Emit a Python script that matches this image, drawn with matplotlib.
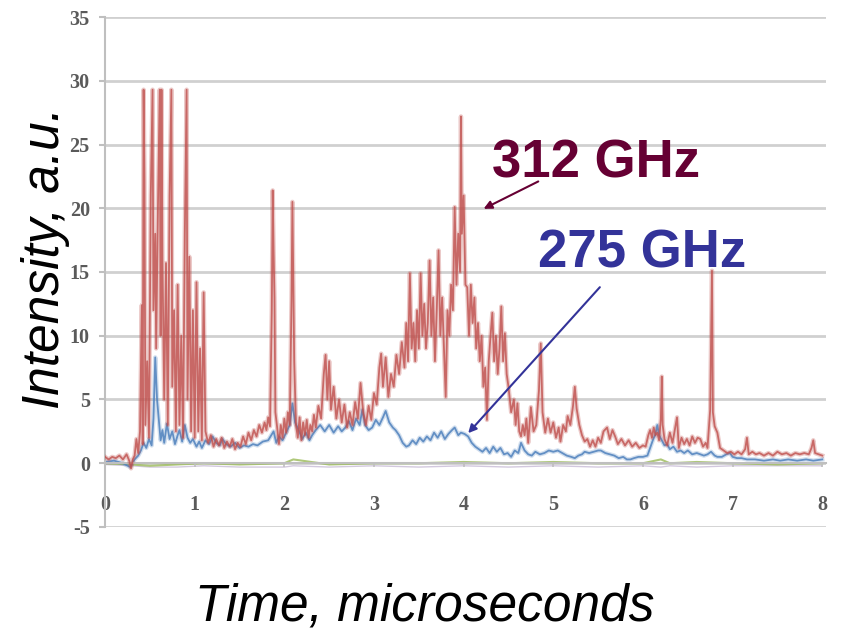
#!/usr/bin/python
# -*- coding: UTF-8 -*-

#################################
# Intensity vs time for the two
# frequencies (312 and 275 GHz)
#################################

import numpy as np
import matplotlib
matplotlib.use('Agg')
import matplotlib.pyplot as plt

plt.rcParams['axes.unicode_minus'] = False

####################################################
# data (time in microseconds)

t_312 = [0.00, 0.04, 0.08, 0.12, 0.16, 0.20, 0.24, 0.27, 0.29, 0.31, 0.33, 0.35, 0.37, 0.39,
         0.41, 0.42, 0.43, 0.44, 0.45, 0.47, 0.49, 0.51, 0.53, 0.54, 0.56, 0.57, 0.59, 0.61,
         0.62, 0.63, 0.64, 0.66, 0.68, 0.70, 0.72, 0.74, 0.75, 0.77, 0.79, 0.81, 0.83, 0.85,
         0.87, 0.89, 0.91, 0.92, 0.94, 0.96, 0.98, 1.00, 1.02, 1.04, 1.06, 1.08, 1.10, 1.12,
         1.15, 1.18, 1.21, 1.24, 1.27, 1.30, 1.33, 1.36, 1.39, 1.42, 1.45, 1.48, 1.51, 1.54,
         1.57, 1.60, 1.63, 1.66, 1.69, 1.72, 1.75, 1.78, 1.80, 1.82, 1.84, 1.86, 1.87, 1.88,
         1.89, 1.90, 1.92, 1.94, 1.96, 1.98, 2.00, 2.02, 2.04, 2.06, 2.08, 2.09, 2.10, 2.11,
         2.13, 2.15, 2.17, 2.19, 2.21, 2.23, 2.25, 2.27, 2.29, 2.31, 2.33, 2.35, 2.38, 2.41,
         2.44, 2.46, 2.48, 2.50, 2.52, 2.55, 2.58, 2.61, 2.64, 2.67, 2.70, 2.73, 2.76, 2.79,
         2.82, 2.85, 2.88, 2.91, 2.94, 2.97, 3.00, 3.03, 3.06, 3.08, 3.10, 3.13, 3.16, 3.19,
         3.22, 3.25, 3.28, 3.31, 3.34, 3.36, 3.38, 3.40, 3.42, 3.44, 3.46, 3.48, 3.50, 3.52,
         3.54, 3.56, 3.58, 3.60, 3.62, 3.64, 3.66, 3.68, 3.70, 3.72, 3.74, 3.76, 3.78, 3.80,
         3.82, 3.84, 3.86, 3.88, 3.90, 3.92, 3.94, 3.96, 3.97, 3.98, 4.00, 4.02, 4.04, 4.06,
         4.08, 4.10, 4.12, 4.14, 4.16, 4.18, 4.20, 4.22, 4.24, 4.26, 4.28, 4.30, 4.32, 4.34,
         4.36, 4.38, 4.40, 4.42, 4.44, 4.46, 4.48, 4.50, 4.53, 4.56, 4.58, 4.60, 4.62, 4.64,
         4.66, 4.68, 4.70, 4.72, 4.75, 4.78, 4.81, 4.84, 4.86, 4.88, 4.91, 4.94, 4.97, 5.00,
         5.03, 5.06, 5.08, 5.11, 5.14, 5.16, 5.19, 5.22, 5.24, 5.26, 5.29, 5.32, 5.35, 5.38,
         5.41, 5.44, 5.47, 5.50, 5.53, 5.56, 5.60, 5.63, 5.66, 5.69, 5.72, 5.76, 5.80, 5.84,
         5.88, 5.92, 5.96, 6.00, 6.03, 6.06, 6.08, 6.10, 6.12, 6.14, 6.16, 6.18, 6.20, 6.21,
         6.22, 6.24, 6.27, 6.30, 6.33, 6.36, 6.38, 6.40, 6.43, 6.46, 6.49, 6.52, 6.55, 6.58,
         6.61, 6.64, 6.67, 6.70, 6.72, 6.75, 6.77, 6.78, 6.80, 6.83, 6.86, 6.90, 6.94, 6.98,
         7.02, 7.06, 7.10, 7.14, 7.16, 7.18, 7.22, 7.26, 7.30, 7.35, 7.40, 7.45, 7.50, 7.55,
         7.60, 7.65, 7.70, 7.75, 7.80, 7.85, 7.88, 7.90, 7.92, 7.96, 8.00]

i_312 = [0.5, 0.3, 0.5, 0.4, 0.6, 0.3, 0.7, 0.2, -0.4, 0.3, 0.6, 1.9, 0.8, 2.5,
         12.4, 1.5, 29.3, 22.2, 3.0, 8.0, 2.0, 21.0, 29.3, 12.0, 18.0, 9.0, 20.0, 29.3,
         10.0, 29.3, 16.0, 5.0, 15.7, 3.0, 21.0, 29.3, 6.0, 12.0, 2.5, 14.0, 3.0, 10.0,
         2.0, 18.1, 29.3, 5.0, 16.2, 2.5, 12.0, 2.0, 14.2, 2.5, 9.0, 1.8, 13.4, 2.5,
         1.6, 2.2, 1.3, 1.9, 1.4, 2.0, 1.2, 1.7, 1.3, 1.9, 1.1, 1.6, 1.3, 2.1,
         1.5, 2.4, 1.8, 2.6, 2.1, 3.0, 2.4, 3.2, 2.6, 3.6, 2.9, 12.0, 21.4, 16.7,
         13.0, 4.0, 2.8, 1.5, 3.0, 2.0, 3.5, 2.4, 4.0, 3.0, 12.8, 20.5, 14.0, 8.0,
         3.0, 2.0, 3.6, 1.8, 3.2, 2.2, 3.4, 2.0, 3.0, 2.5, 3.8, 2.8, 4.5, 3.5,
         7.0, 8.5, 5.0, 8.0, 4.2, 6.0, 3.5, 5.0, 3.2, 4.6, 2.8, 4.0, 3.0, 4.8,
         3.5, 6.3, 4.0, 3.0, 4.5, 3.4, 5.5, 4.6, 7.5, 8.6, 6.0, 8.3, 5.2, 7.0,
         6.0, 8.5, 7.0, 9.5, 7.5, 11.0, 8.0, 14.9, 9.0, 11.0, 8.0, 12.0, 9.0, 14.9,
         10.0, 12.5, 9.0, 11.0, 15.9, 10.0, 13.0, 8.0, 12.0, 16.7, 10.0, 13.0, 9.0, 5.2,
         12.0, 10.0, 14.0, 12.0, 20.1, 14.0, 18.0, 15.0, 27.2, 18.0, 21.0, 14.0, 13.8, 10.0,
         14.0, 11.0, 13.0, 9.0, 11.0, 8.0, 10.0, 6.0, 7.5, 3.4, 8.0, 10.0, 11.8, 8.0,
         10.0, 7.0, 9.0, 12.3, 8.0, 10.2, 7.0, 6.0, 4.0, 5.0, 3.0, 4.7, 2.5, 2.1,
         3.0, 2.2, 3.5, 1.6, 4.4, 2.5, 3.0, 5.7, 9.4, 4.0, 2.4, 3.5, 2.4, 3.2,
         2.0, 2.8, 1.7, 3.0, 2.5, 3.7, 3.0, 4.5, 6.0, 4.3, 3.0, 2.2, 1.7, 1.9,
         1.3, 1.8, 1.3, 2.0, 1.6, 2.5, 2.8, 1.9, 2.6, 2.1, 1.5, 1.9, 1.4, 1.8,
         1.3, 1.6, 1.2, 1.4, 1.3, 2.2, 2.6, 2.0, 2.8, 2.2, 2.4, 1.8, 3.5, 6.8,
         3.0, 1.9, 1.4, 2.4, 1.6, 2.8, 3.6, 1.2, 2.0, 1.5, 1.9, 1.4, 2.1, 1.6,
         2.0, 1.9, 1.3, 1.6, 1.2, 4.2, 15.1, 4.0, 2.9, 2.4, 1.2, 1.0, 0.8, 0.9,
         0.7, 0.9, 0.7, 1.1, 2.0, 0.7, 0.9, 0.7, 0.8, 0.6, 0.8, 0.6, 0.9, 0.7,
         0.8, 0.6, 0.8, 0.7, 0.8, 0.7, 1.2, 1.8, 0.8, 0.7, 0.6]

t_275 = [0.00, 0.10, 0.20, 0.28, 0.33, 0.37, 0.40, 0.43, 0.46, 0.49, 0.52, 0.54, 0.56, 0.58,
         0.60, 0.62, 0.64, 0.66, 0.69, 0.72, 0.75, 0.78, 0.81, 0.83, 0.86, 0.89, 0.92, 0.95,
         0.98, 1.02, 1.05, 1.08, 1.12, 1.16, 1.20, 1.24, 1.28, 1.31, 1.35, 1.40, 1.45, 1.50,
         1.55, 1.60, 1.65, 1.70, 1.76, 1.82, 1.88, 1.91, 1.94, 1.98, 2.02, 2.06, 2.09, 2.12,
         2.16, 2.20, 2.24, 2.28, 2.31, 2.35, 2.40, 2.45, 2.50, 2.55, 2.60, 2.64, 2.68, 2.72,
         2.76, 2.80, 2.84, 2.87, 2.90, 2.94, 2.98, 3.02, 3.06, 3.10, 3.13, 3.17, 3.21, 3.24,
         3.28, 3.32, 3.36, 3.39, 3.43, 3.47, 3.51, 3.55, 3.59, 3.63, 3.67, 3.71, 3.75, 3.79,
         3.83, 3.87, 3.90, 3.94, 3.97, 4.01, 4.05, 4.09, 4.13, 4.17, 4.21, 4.25, 4.29, 4.33,
         4.37, 4.41, 4.45, 4.49, 4.53, 4.57, 4.61, 4.64, 4.68, 4.72, 4.76, 4.80, 4.85, 4.90,
         4.95, 5.00, 5.05, 5.10, 5.15, 5.20, 5.24, 5.28, 5.32, 5.35, 5.40, 5.45, 5.50, 5.53,
         5.58, 5.63, 5.68, 5.73, 5.78, 5.82, 5.86, 5.90, 5.95, 6.00, 6.05, 6.08, 6.11, 6.14,
         6.16, 6.18, 6.21, 6.24, 6.27, 6.30, 6.34, 6.38, 6.42, 6.46, 6.50, 6.55, 6.60, 6.64,
         6.68, 6.72, 6.76, 6.80, 6.83, 6.88, 6.93, 6.97, 7.00, 7.05, 7.10, 7.16, 7.25, 7.35,
         7.45, 7.53, 7.62, 7.72, 7.82, 7.90, 8.00]

i_275 = [0.1, 0.2, 0.0, -0.3, 0.3, 0.6, 1.0, 1.6, 1.2, 1.9, 1.4, 3.5, 8.3, 5.0,
         3.4, 1.8, 2.6, 1.6, 3.1, 1.9, 2.5, 1.5, 2.2, 2.6, 1.7, 3.0, 2.0, 1.6,
         1.9, 1.3, 1.7, 1.2, 1.8, 1.5, 2.1, 1.6, 1.4, 1.9, 1.5, 1.3, 1.6, 1.2,
         1.4, 1.3, 1.5, 1.4, 1.7, 1.8, 2.5, 1.6, 2.1, 1.8, 2.4, 3.0, 4.7, 3.2,
         2.6, 1.9, 2.4, 1.8, 2.2, 2.6, 3.0, 2.5, 3.0, 2.4, 2.9, 2.5, 2.8, 3.3,
         2.6, 3.5, 3.0, 4.2, 3.0, 2.6, 2.8, 3.4, 3.0, 3.6, 4.1, 3.2, 2.8, 2.6,
         2.2, 1.6, 1.3, 1.4, 1.8, 1.5, 2.0, 1.7, 2.1, 1.8, 2.4, 2.0, 2.5, 1.9,
         2.3, 2.6, 2.8, 2.2, 2.4, 2.3, 2.1, 1.6, 1.3, 1.1, 0.9, 1.2, 0.8, 1.3,
         0.9, 1.2, 0.7, 0.8, 0.5, 1.0, 0.8, 1.6, 1.0, 0.7, 0.6, 0.9, 0.7, 0.8,
         1.0, 0.9, 1.0, 0.8, 0.6, 0.5, 0.4, 0.6, 0.7, 0.9, 0.8, 0.9, 1.0, 1.0,
         0.8, 0.7, 0.6, 0.4, 0.5, 0.3, 0.3, 0.4, 0.5, 0.5, 0.6, 1.2, 1.8, 2.3,
         3.0, 2.2, 1.8, 1.4, 1.5, 1.1, 1.3, 0.9, 1.0, 0.8, 1.0, 0.7, 0.8, 0.7,
         0.6, 0.7, 0.9, 0.6, 0.5, 0.5, 0.7, 0.8, 0.5, 0.4, 0.4, 0.3, 0.3, 0.2,
         0.3, 0.2, 0.3, 0.2, 0.3, 0.2, 0.3]

# reference channels, almost flat around zero
t_ref = [0.0, 0.3, 0.5, 0.8, 1.1, 1.5, 2.0, 2.1, 2.5, 3.0, 3.5, 4.0, 4.5, 5.0, 5.5, 6.0,
         6.2, 6.3, 6.6, 7.0, 7.5, 8.0]
i_grn = [0.0, -0.1, -0.2, -0.1, 0.0, -0.1, 0.0, 0.3, -0.1, 0.0, 0.0, 0.1, 0.0, 0.1, 0.0,
         0.0, 0.3, 0.0, 0.1, 0.0, -0.1, 0.0]
i_pur = [-0.1, -0.2, -0.3, -0.3, -0.2, -0.3, -0.3, -0.2, -0.3, -0.2, -0.3, -0.2, -0.3,
         -0.2, -0.3, -0.2, -0.3, -0.2, -0.3, -0.2, -0.2, -0.2]

yticks = [-5, 0, 5, 10, 15, 20, 25, 30, 35]
xticks = [0, 1, 2, 3, 4, 5, 6, 7, 8]

c_312 = '#c0504d'
c_275 = '#4f81bd'
txt_312 = '#660033'
txt_275 = '#333399'
gray = '#5a5a5a'

####################################################
fig = plt.figure(figsize=(8.41, 6.37), dpi=100)
ax = fig.add_axes([0.1249, 0.1727, 0.8576, 0.8006])

# grid
for y in yticks:
    ax.axhline(y, color='#d0d0d0', lw=2.0, zorder=0)

ax.plot(t_ref, i_pur, color='#8064a2', lw=1.0, alpha=0.35, zorder=1)
ax.plot(t_ref, i_grn, color='#9bbb59', lw=1.5, alpha=0.8, zorder=1)

# blurred look: wide faint line + thin line
ax.plot(t_275, i_275, color=c_275, lw=3.2, alpha=0.25, zorder=2)
ax.plot(t_275, i_275, color=c_275, lw=1.3, alpha=0.85, zorder=2)
ax.plot(t_312, i_312, color=c_312, lw=3.2, alpha=0.3, zorder=3)
ax.plot(t_312, i_312, color=c_312, lw=1.3, alpha=0.8, zorder=3)

ax.set_xlim(0, 8.045)
ax.set_ylim(-5, 35)

for s in ['top', 'right']:
    ax.spines[s].set_visible(False)
ax.spines['left'].set_color('#bfbfbf')
ax.spines['left'].set_linewidth(1.5)
ax.spines['bottom'].set_position(('data', 0))
ax.spines['bottom'].set_color('#bfbfbf')
ax.spines['bottom'].set_linewidth(1.5)

ax.set_yticks(yticks)
ax.set_xticks(xticks)
ax.tick_params(axis='y', direction='out', length=4, width=1.5, color='#bfbfbf', pad=7)
ax.tick_params(axis='x', direction='out', length=3, width=1.2, color='#bfbfbf', pad=20)
for lab in ax.get_yticklabels() + ax.get_xticklabels():
    lab.set_family('Liberation Serif')
    lab.set_fontweight('bold')
    lab.set_fontsize(14.5)
    lab.set_color(gray)

# labels
fig.text(0.054, 0.595, 'Intensity, a.u.', rotation=90, ha='center', va='center',
         fontsize=37, style='italic', family='Liberation Sans')
fig.text(0.505, 0.047, 'Time, microseconds', ha='center', va='center',
         fontsize=37, style='italic', family='Liberation Sans')

# annotations
fig.text(0.585, 0.7206, '312 GHz', ha='left', va='baseline', fontsize=38,
         fontweight='bold', color=txt_312, family='Liberation Sans')
fig.text(0.6397, 0.5793, '275 GHz', ha='left', va='baseline', fontsize=38,
         fontweight='bold', color=txt_275, family='Liberation Sans')

ax.annotate('', xy=(4.195, 19.86), xytext=(4.86, 22.2),
            arrowprops=dict(arrowstyle='-|>', color=txt_312, lw=1.5,
                            mutation_scale=12), zorder=5)
ax.annotate('', xy=(4.03, 2.2), xytext=(5.54, 13.97),
            arrowprops=dict(arrowstyle='-|>', color=txt_275, lw=1.5,
                            mutation_scale=12), zorder=5)

fig.savefig('out.png', dpi=100)
